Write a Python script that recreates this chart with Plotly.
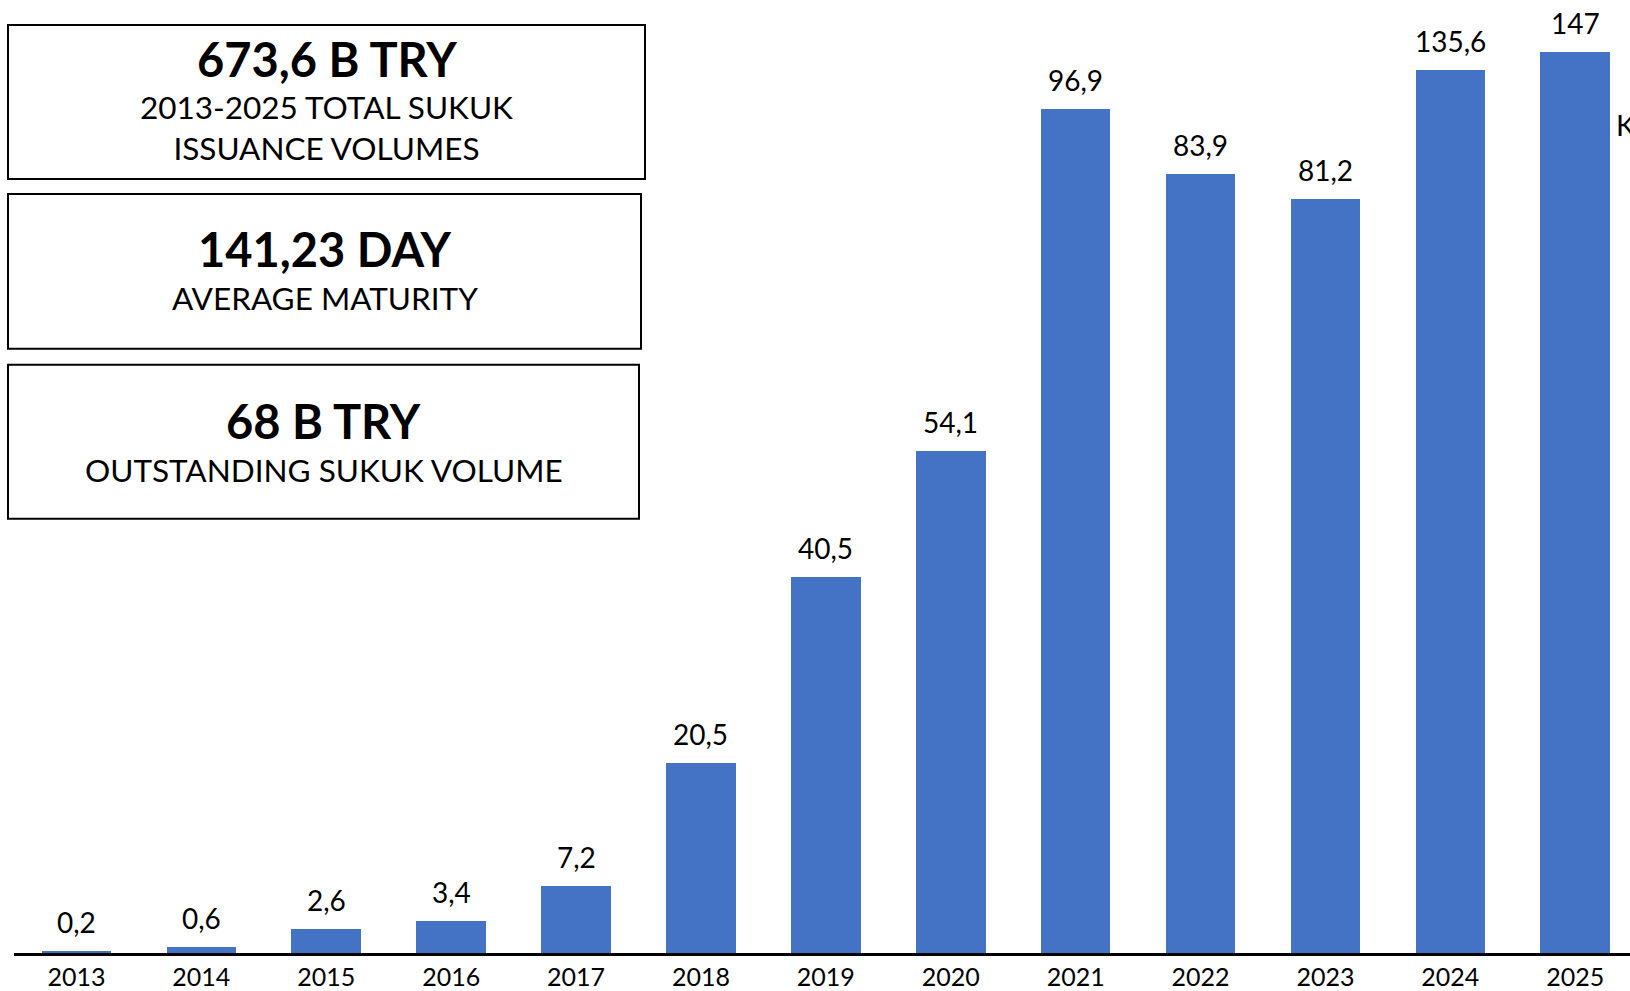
import plotly.graph_objects as go

# data
years = ["2013", "2014", "2015", "2016", "2017", "2018", "2019",
         "2020", "2021", "2022", "2023", "2024", "2025"]
# drawn bar heights (the picture's bars for 2021, 2024, 2025 are shorter than their labels)
bar_heights = [0.2, 0.6, 2.6, 3.4, 7.2, 20.5, 40.5, 54.1, 90.9, 83.9, 81.2, 95.1, 97.0]
value_labels = ["0,2", "0,6", "2,6", "3,4", "7,2", "20,5", "40,5",
                "54,1", "96,9", "83,9", "81,2", "135,6", "147"]

box_titles = ["673,6 B TRY", "141,23 DAY", "68 B TRY"]
box_subtitles = ["2013-2025 TOTAL SUKUK<br>ISSUANCE VOLUMES", "AVERAGE MATURITY",
                 "OUTSTANDING SUKUK VOLUME"]

BLUE = "#4472C4"
FONT = "Lato"
W, H = 1630, 991
AXIS_Y = 953.5  # y of the x axis line (px)
L = 14
B = H - AXIS_Y
PW, PH = W - L, H - B


def px_x(x):
    # x in pixels -> paper
    return (x - L) / PW


def px_y(y):
    return (PH - y) / PH


fig = go.Figure()
fig.add_trace(
    go.Bar(
        x=list(range(len(years))),
        y=bar_heights,
        marker=dict(color=BLUE, line=dict(width=0)),
        width=0.557,
        hoverinfo="skip",
    )
)

for i, (h, lab) in enumerate(zip(bar_heights, value_labels)):
    fig.add_annotation(
        x=i, y=h, text=lab, showarrow=False, yanchor="bottom", yshift=10,
        font=dict(family=FONT, size=28, color="#000"),
    )

# the three info boxes on the left
boxes = [(8, 25, 645, 179), (8, 194, 641, 349), (8, 365, 639, 519)]
title_y = [59, 249, 421]
sub_y = [128, 298, 470]
for (x0, y0, x1, y1), t, s, ty, sy in zip(boxes, box_titles, box_subtitles, title_y, sub_y):
    fig.add_shape(
        type="rect", xref="paper", yref="paper",
        x0=px_x(x0), x1=px_x(x1), y0=px_y(y0), y1=px_y(y1),
        line=dict(color="#000", width=2), fillcolor="white", layer="above",
    )
    cx = px_x((x0 + x1) / 2)
    fig.add_annotation(
        xref="paper", yref="paper", x=cx, y=px_y(ty), text="<b>" + t + "</b>",
        showarrow=False, xanchor="center", yanchor="middle",
        font=dict(family=FONT, size=47, color="#000"),
    )
    fig.add_annotation(
        xref="paper", yref="paper", x=cx, y=px_y(sy), text=s,
        showarrow=False, xanchor="center", yanchor="middle",
        font=dict(family=FONT, size=31.5, color="#000"),
    )

# cut-off text at the right edge
fig.add_annotation(
    xref="paper", yref="paper", x=px_x(1614), y=px_y(125), text="K",
    showarrow=False, xanchor="left", yanchor="middle",
    font=dict(family=FONT, size=29, color="#000"),
)

fig.update_layout(
    width=W, height=H,
    margin=dict(l=L, r=0, t=0, b=B, pad=0),
    plot_bgcolor="white", paper_bgcolor="white",
    showlegend=False, bargap=0,
)
fig.update_xaxes(
    range=[-0.5, -0.5 + PW / 124.9], automargin=False,
    tickmode="array", tickvals=list(range(len(years))), ticktext=years,
    showgrid=False, zeroline=False, showline=True, linecolor="#000", linewidth=2.5,
    ticks="", tickfont=dict(family=FONT, size=25, color="#000"),
)
fig.update_yaxes(
    range=[0, PH / 9.29], visible=False, automargin=False,
    showgrid=False, zeroline=False,
)

# drop the browser's default page margin so the figure fills the window
fig.write_html(
    "out.html",
    config={"displayModeBar": False},
    post_script="document.body.style.margin = '0px';",
)
